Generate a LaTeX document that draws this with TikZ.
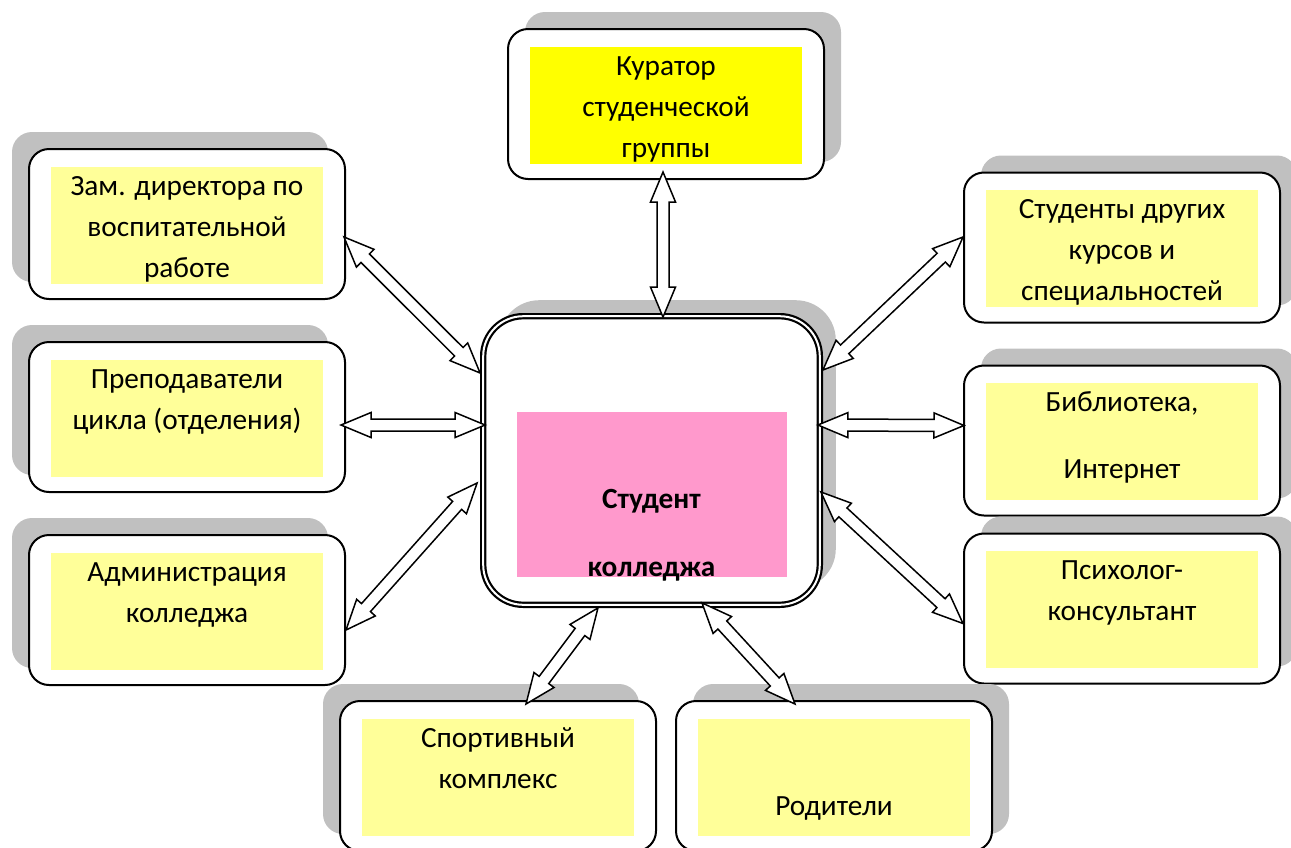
\documentclass[tikz,border=0pt]{standalone}
\usepackage{fontspec}
\setmainfont{Carlito}
\usepackage{xcolor}
\usepackage{tikz}
\usetikzlibrary{positioning, calc, shadows}

\definecolor{kurYellow}{HTML}{FFFF00}
\definecolor{paleYellow}{HTML}{FFFF99}
\definecolor{studPink}{HTML}{FF99CC}
\definecolor{shadowGray}{HTML}{C0C0C0}

\newcommand{\rowstrut}{\rule[-8.5pt]{0pt}{41pt}}
% двойная стрелка между двумя точками
\newcommand{\dblarrow}[2]{%
    \draw [link] let \p1=#1, \p2=#2,
        \n1={atan2(\y2-\y1,\x2-\x1)}, \n2={veclen(\x2-\x1,\y2-\y1)} in
        [shift={(\p1)}, rotate=\n1] (0,0) -- (30,12.5) -- (30,6) -- (\n2-30,6) -- (\n2-30,12.5)
        -- (\n2,0) -- (\n2-30,-12.5) -- (\n2-30,-6) -- (30,-6) -- (30,-12.5) -- cycle;}

\begin{document}
\begin{tikzpicture}[
        x=1pt, y=-1pt,
        card/.style={rectangle, rounded corners=20pt, draw=black, line width=2pt, fill=white,
            minimum width=316pt, minimum height=150pt, align=center,
            font=\fontsize{29.3pt}{41pt}\selectfont,
            path picture={\fill[#1, sharp corners] ([shift={(-136pt,-59.5pt)}]path picture bounding box.center) rectangle ++(272pt,117pt);}},
        card/.default=paleYellow,
        shadowL/.style={general shadow={fill=shadowGray, shadow xshift=-17pt, shadow yshift=17pt}},
        shadowR/.style={general shadow={fill=shadowGray, shadow xshift=17pt, shadow yshift=17pt}},
        hub/.style={rectangle, rounded corners=40pt, draw=black, line width=2.2pt, double=white, double distance=2pt,
            fill=white, minimum width=336.6pt, minimum height=288.6pt, align=center,
            font=\fontsize{29.3pt}{41pt}\selectfont\bfseries,
            path picture={\fill[studPink, sharp corners] ([shift={(-134.5pt,-116.5pt)}]path picture bounding box.center) rectangle ++(270pt,165pt);},
            general shadow={fill=shadowGray, shadow xshift=16pt, shadow yshift=16pt}},
        link/.style={line width=1.5pt, draw=black, fill=white, line join=miter}
    ]
        \useasboundingbox (0,0) rectangle (1291,847);

        % ===== центр =====
        \node (stud) [hub] at (651.5,460.5) {\rowstrut\\[98pt]Студент\\[27pt]колледжа\rowstrut};

        % ===== верх и левая колонка =====
        \node (kurator) [card=kurYellow, shadowR] at (666,104) {\rowstrut Куратор\\студенческой\\группы\rowstrut};
        \node (zam) [card, shadowL] at (187,224) {\rowstrut Зам. директора по\\воспитательной\\работе\rowstrut};
        \node (prep) [card, shadowL, below=41pt of zam] {\rowstrut Преподаватели\\цикла (отделения)\\\rowstrut};
        \node (admin) [card, shadowL, below=41pt of prep] {\rowstrut Администрация\\колледжа\\\rowstrut};

        % ===== правая колонка =====
        \node (studdr) [card, shadowR] at (1122,247.5) {\rowstrut Студенты других\\курсов и\\специальностей\rowstrut};
        \node (bibl) [card, shadowR, below=41pt of studdr] {\rowstrut Библиотека,\\[26pt]Интернет\\[-26pt]\rowstrut};
        \node (psych) [card, shadowR, below=16pt of bibl] {\rowstrut Психолог-\\консультант\\\rowstrut};

        % ===== низ =====
        \node (sport) [card, shadowL] at (498,776) {\rowstrut Спортивный\\комплекс\\\rowstrut};
        \node (rodit) [card, shadowR, right=18pt of sport] {\rowstrut\\[27pt]Родители\\[-27pt]\rowstrut};

        % ===== связи =====
        \dblarrow{($(kurator.south)+(-3,-8)$)}{($(stud.north)+(11.5,2)$)}
        \dblarrow{($(zam.east)+(-2,13)$)}{($(stud.west)+(-2,-87.5)$)}
        \dblarrow{($(prep.east)+(-5,8)$)}{($(stud.west)+(3,-35.5)$)}
        \dblarrow{($(admin.east)+(0,20)$)}{($(stud.west)+(-5,22.5)$)}
        \dblarrow{($(studdr.west)+(0,-10.5)$)}{($(stud.east)+(2,-90.5)$)}
        \dblarrow{($(bibl.west)+(1,-15)$)}{($(stud.east)+(-3,-35.5)$)}
        \dblarrow{($(psych.west)+(0,15)$)}{($(stud.east)+(0,31.5)$)}
        \dblarrow{($(sport.north)+(28,4)$)}{($(stud.south)+(-53.5,2)$)}
        \dblarrow{($(rodit.north)+(-39,4)$)}{($(stud.south)+(50.5,-3)$)}

    \end{tikzpicture}
\end{document}
